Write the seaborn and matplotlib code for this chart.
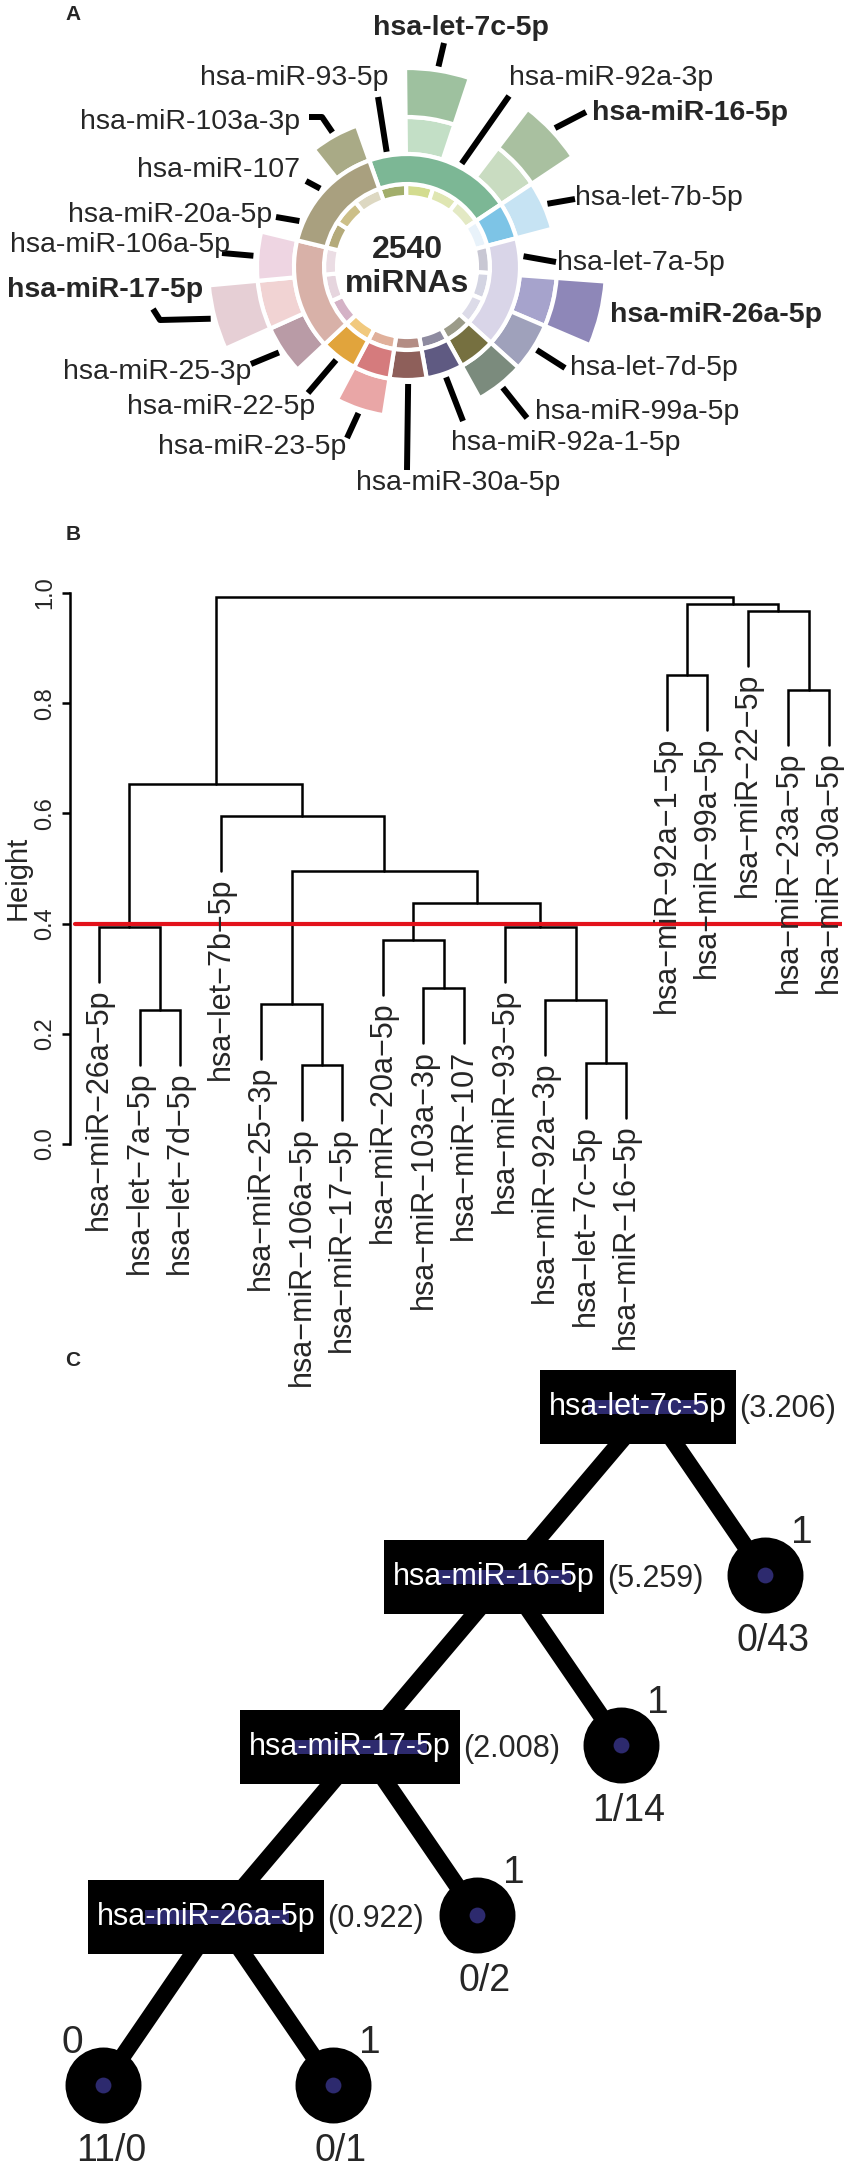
import numpy as np
import matplotlib
matplotlib.use("Agg")
import matplotlib.pyplot as plt
from matplotlib.patches import Wedge, Rectangle
import seaborn as sns

sns.set_theme(style="white")
plt.rcParams['font.family'] = ['Liberation Sans', 'DejaVu Sans']
NARROW = ['Liberation Sans Narrow', 'Liberation Sans', 'DejaVu Sans']

# ===== A: circular overview of the selected miRNAs =====
total_mirnas = 2540
ring_mirs = ["hsa-miR-93-5p", "hsa-let-7c-5p", "hsa-miR-92a-3p", "hsa-miR-16-5p",
             "hsa-let-7b-5p", "hsa-let-7a-5p", "hsa-miR-26a-5p", "hsa-let-7d-5p",
             "hsa-miR-99a-5p", "hsa-miR-92a-1-5p", "hsa-miR-30a-5p", "hsa-miR-23-5p",
             "hsa-miR-22-5p", "hsa-miR-25-3p", "hsa-miR-17-5p", "hsa-miR-106a-5p",
             "hsa-miR-20a-5p", "hsa-miR-107", "hsa-miR-103a-3p"]
ring_cluster = [0, 0, 0, 0, 1, 2, 2, 2, 3, 4, 5, 6, 7, 8, 8, 8, 9, 9, 9]
cluster_colors = ["#7cb795", "#7dc4e6", "#d9d5e8", "#767040", "#5f5a82",
                  "#8e5f5a", "#d57b7d", "#e1a43c", "#d8b1a8", "#a9a07f"]
inner_colors = ["#a2ae6b", "#d3dc8f", "#dfe6b2", "#e3e9c4", "#e8f2fa",
                "#c8c7d3", "#d3d4e2", "#dcdbe8", "#9b9b89", "#8e8ba0",
                "#b38c84", "#e0b09b", "#f1c97e", "#d4b2c6", "#e6d5de",
                "#ebdde4", "#b4aa7a", "#ccbf88", "#ddd8c2"]
petal1_colors = [None, "#c3dfc6", None, "#c9dcc1", "#c6e3f3", None, "#a6a3cc",
                 "#9fa1bb", "#7b8b7d", None, None, "#e9a6a6", None, "#b99ba6",
                 "#f1d3d3", "#eed5e2", None, None, "#a9aa86"]
petal2_colors = [None, "#9ec19f", None, "#a9c0a0", None, None, "#8e87b8",
                 None, None, None, None, None, None, None,
                 "#e6cfd5", None, None, None, None]
bold_mirs = ["hsa-let-7c-5p", "hsa-miR-16-5p", "hsa-miR-17-5p", "hsa-miR-26a-5p"]

# ===== B: hierarchical clustering =====
leaf_order = ["hsa-miR-26a-5p", "hsa-let-7a-5p", "hsa-let-7d-5p", "hsa-let-7b-5p",
              "hsa-miR-25-3p", "hsa-miR-106a-5p", "hsa-miR-17-5p", "hsa-miR-20a-5p",
              "hsa-miR-103a-3p", "hsa-miR-107", "hsa-miR-93-5p", "hsa-miR-92a-3p",
              "hsa-let-7c-5p", "hsa-miR-16-5p", "hsa-miR-92a-1-5p", "hsa-miR-99a-5p",
              "hsa-miR-22-5p", "hsa-miR-23a-5p", "hsa-miR-30a-5p"]
# (left, right, height); ints refer to earlier merges
merges = [("hsa-let-7c-5p", "hsa-miR-16-5p", 0.147),
          ("hsa-miR-106a-5p", "hsa-miR-17-5p", 0.143),
          ("hsa-let-7a-5p", "hsa-let-7d-5p", 0.243),
          ("hsa-miR-25-3p", 1, 0.254),
          ("hsa-miR-92a-3p", 0, 0.261),
          ("hsa-miR-103a-3p", "hsa-miR-107", 0.283),
          ("hsa-miR-20a-5p", 5, 0.370),
          ("hsa-miR-26a-5p", 2, 0.394),
          ("hsa-miR-93-5p", 4, 0.394),
          (6, 8, 0.437),
          (3, 9, 0.495),
          ("hsa-let-7b-5p", 10, 0.595),
          (7, 11, 0.653),
          ("hsa-miR-92a-1-5p", "hsa-miR-99a-5p", 0.851),
          ("hsa-miR-23a-5p", "hsa-miR-30a-5p", 0.824),
          ("hsa-miR-22-5p", 14, 0.967),
          (13, 15, 0.980),
          (12, 16, 0.993)]
cut_height = 0.4
hang = 0.1
y_ticks = [0.0, 0.2, 0.4, 0.6, 0.8, 1.0]

# ===== C: decision tree =====
split_vars = ["hsa-let-7c-5p", "hsa-miR-16-5p", "hsa-miR-17-5p", "hsa-miR-26a-5p"]
split_stats = [3.206, 5.259, 2.008, 0.922]
leaf_class = ["1", "1", "1", "0", "1"]
leaf_counts = ["0/43", "1/14", "0/2", "11/0", "0/1"]

# ---- label layout for panel A (pixels): x, y, ha, leader start points ----
label_layout = {
    "hsa-let-7c-5p": (461, 28, "center", [(444, 43)]),
    "hsa-miR-92a-3p": (509, 78, "left", [(509, 96)]),
    "hsa-miR-16-5p": (592, 113, "left", [(586, 112)]),
    "hsa-let-7b-5p": (575, 198, "left", [(575, 199)]),
    "hsa-let-7a-5p": (557, 263, "left", [(556, 262)]),
    "hsa-miR-26a-5p": (610, 315, "left", []),
    "hsa-let-7d-5p": (570, 368, "left", [(565, 368)]),
    "hsa-miR-99a-5p": (535, 412, "left", [(527, 418)]),
    "hsa-miR-92a-1-5p": (451, 443, "left", [(463, 421)]),
    "hsa-miR-30a-5p": (458, 483, "center", [(407, 470)]),
    "hsa-miR-23-5p": (346, 447, "right", [(347, 438)]),
    "hsa-miR-22-5p": (315, 407, "right", [(308, 393)]),
    "hsa-miR-25-3p": (251, 372, "right", [(251, 364)]),
    "hsa-miR-17-5p": (203, 290, "right", [(153, 309), (160, 320)]),
    "hsa-miR-106a-5p": (230, 245, "right", [(222, 253)]),
    "hsa-miR-20a-5p": (272, 215, "right", [(276, 217)]),
    "hsa-miR-107": (300, 170, "right", [(306, 181)]),
    "hsa-miR-103a-3p": (300, 122, "right", [(309, 117), (322, 117)]),
    "hsa-miR-93-5p": (388, 78, "right", [(378, 97)]),
}

W, H = 844, 2173
fig = plt.figure(figsize=(W / 100, H / 100), dpi=100)
ax0 = fig.add_axes([0, 0, 1, 1])
ax0.set_facecolor("none")

# ===== panel A =====
cx, cy = 407, 267
n = len(ring_mirs)
slot = 360 / n
start = -19.5


def polar(angle, r):
    a = np.radians(angle)
    return cx + r * np.sin(a), cy - r * np.cos(a)


def wedge(a0, a1, r_out, width, color):
    ax0.add_patch(Wedge((cx, cy), r_out, a0 - 90, a1 - 90, width=width,
                        facecolor=color, edgecolor="white", linewidth=3, zorder=2))


for i in range(n):
    a0 = start + i * slot
    a1 = a0 + slot
    wedge(a0, a1, 83, 13, inner_colors[i])
    if petal1_colors[i]:
        wedge(a0, a1, 150, 37, petal1_colors[i])
    if petal2_colors[i]:
        wedge(a0, a1, 199, 49, petal2_colors[i])

for c, col in enumerate(cluster_colors):
    idx = [i for i, k in enumerate(ring_cluster) if k == c]
    wedge(start + min(idx) * slot, start + (max(idx) + 1) * slot, 113, 30, col)

for i, m in enumerate(ring_mirs):
    lx, ly, ha, pts = label_layout[m]
    ax0.text(lx, ly, m, ha=ha, va="center", fontsize=20.5,
             fontweight="bold" if m in bold_mirs else "normal", zorder=4)
    if pts:
        r_end = 203 if petal2_colors[i] else (154 if petal1_colors[i] else 117)
        ex, ey = polar(start + (i + 0.5) * slot, r_end)
        xs = [p[0] for p in pts] + [ex]
        ys = [p[1] for p in pts] + [ey]
        ax0.plot(xs, ys, color="black", lw=4.3, solid_capstyle="butt", zorder=3)

ax0.text(cx, cy, f"{total_mirnas}\nmiRNAs", ha="center", va="center",
         fontsize=23, fontweight="bold", linespacing=1.15, zorder=4)

# ===== panel B =====
axB = fig.add_axes([70 / W, 1 - 1144 / H, 772 / W, 551 / H])
axB.set_facecolor("none")
pos = {name: i + 1 for i, name in enumerate(leaf_order)}
mx, mh = [], []
leaf_end = {}
for a, b, h in merges:
    xy = []
    for ref in (a, b):
        if isinstance(ref, str):
            x, y = pos[ref], h - hang
            leaf_end[ref] = y
        else:
            x, y = mx[ref], mh[ref]
        xy.append((x, y))
    (xa, ya), (xb, yb) = xy
    axB.plot([xa, xa, xb, xb], [ya, h, h, yb], color="black", lw=1.8,
             solid_joinstyle="miter", clip_on=False)
    mx.append((xa + xb) / 2)
    mh.append(h)

for name in leaf_order:
    axB.text(pos[name], leaf_end[name] - 0.012, name.replace("-", "\u2212"),
             rotation=90, ha="center", va="top", fontsize=22)

axB.axhline(cut_height, xmin=0.006, xmax=1, color="#e3121b", lw=3)
axB.set_xlim(1 - 29 / 40.56, 19 + 13 / 40.56)
axB.set_ylim(0, 1)
axB.set_xticks([])
axB.set_yticks(y_ticks)
axB.set_yticklabels([f"{t:.1f}" for t in y_ticks], rotation=90, va="center")
axB.tick_params(axis="y", left=True, length=6, width=1.8, color="black",
                labelsize=17, pad=4)
for s in ["top", "right", "bottom"]:
    axB.spines[s].set_visible(False)
axB.spines["left"].set_color("black")
axB.spines["left"].set_linewidth(1.8)
axB.spines["left"].set_bounds(0, 1)
ax0.text(18, 878, "Height", rotation=90, ha="center", va="center", fontsize=21)

# ===== panel C =====
node_x0, node_y0, DX, DY, TX, TY = 650, 1407, 144, 170, 115, 168
split_xy = [(node_x0 - k * DX, node_y0 + k * DY) for k in range(len(split_vars))]
term_xy = [(x + TX, y + TY) for x, y in split_xy[:-1]]
lx, ly = split_xy[-1]
term_xy += [(lx - TX, ly + TY), (lx + TX, ly + TY)]

edges = [(split_xy[k], split_xy[k + 1]) for k in range(len(split_xy) - 1)]
edges += [(split_xy[k], term_xy[k]) for k in range(len(split_xy) - 1)]
edges += [(split_xy[-1], term_xy[-2]), (split_xy[-1], term_xy[-1])]
for (x1, y1), (x2, y2) in edges:
    ax0.plot([x1, x2], [y1, y2], color="black", lw=12, solid_capstyle="butt", zorder=1)

tx = np.array([p[0] for p in term_xy])
ty = np.array([p[1] for p in term_xy])
sns.scatterplot(x=tx, y=ty, s=2990, color="black", linewidth=0, ax=ax0,
                zorder=3, legend=False)
sns.scatterplot(x=tx, y=ty, s=130, color="#2d2a6e", linewidth=0, ax=ax0,
                zorder=4, legend=False)
for k, (x, y) in enumerate(term_xy):
    side = -31 if leaf_class[k] == "0" else 37
    ax0.text(x + side, y - 42, leaf_class[k], ha="center", va="center",
             fontsize=28, family=NARROW, zorder=5)
    ax0.text(x + 8, y + 66, leaf_counts[k], ha="center", va="center",
             fontsize=27, family=NARROW, zorder=5)

ax0.set_xlim(0, W)
ax0.set_ylim(H, 0)
ax0.axis("off")

box_texts = []
for (x, y), var in zip(split_xy, split_vars):
    t = ax0.text(x - 12, y, var, color="white", ha="center", va="center",
                 fontsize=22, family=NARROW, zorder=6)
    box_texts.append(t)

fig.canvas.draw()
renderer = fig.canvas.get_renderer()
inv = ax0.transData.inverted()
for t, (x, y), v in zip(box_texts, split_xy, split_stats):
    bb = t.get_window_extent(renderer)
    (x0, _), (x1, _) = inv.transform([[bb.x0, bb.y0], [bb.x1, bb.y1]])
    w = x1 - x0
    ax0.add_patch(Rectangle((x0 - 9, y - 37), w + 18, 74, facecolor="black",
                            edgecolor="none", zorder=4))
    ax0.add_patch(Rectangle((x0 + 0.22 * w, y - 7), 0.66 * w, 14,
                            facecolor="#2d2a6e", edgecolor="none", zorder=5))
    ax0.text(x1 + 12, y + 2, f"({v:.3f})", ha="left", va="center",
             fontsize=22, family=NARROW, zorder=6)

# panel letters
for letter, (px, py) in zip("ABC", [(73, 15), (73, 535), (73, 1360)]):
    ax0.text(px, py, letter, ha="center", va="center", fontsize=15,
             fontweight="bold", zorder=6)

fig.savefig("out.png", dpi=100)
